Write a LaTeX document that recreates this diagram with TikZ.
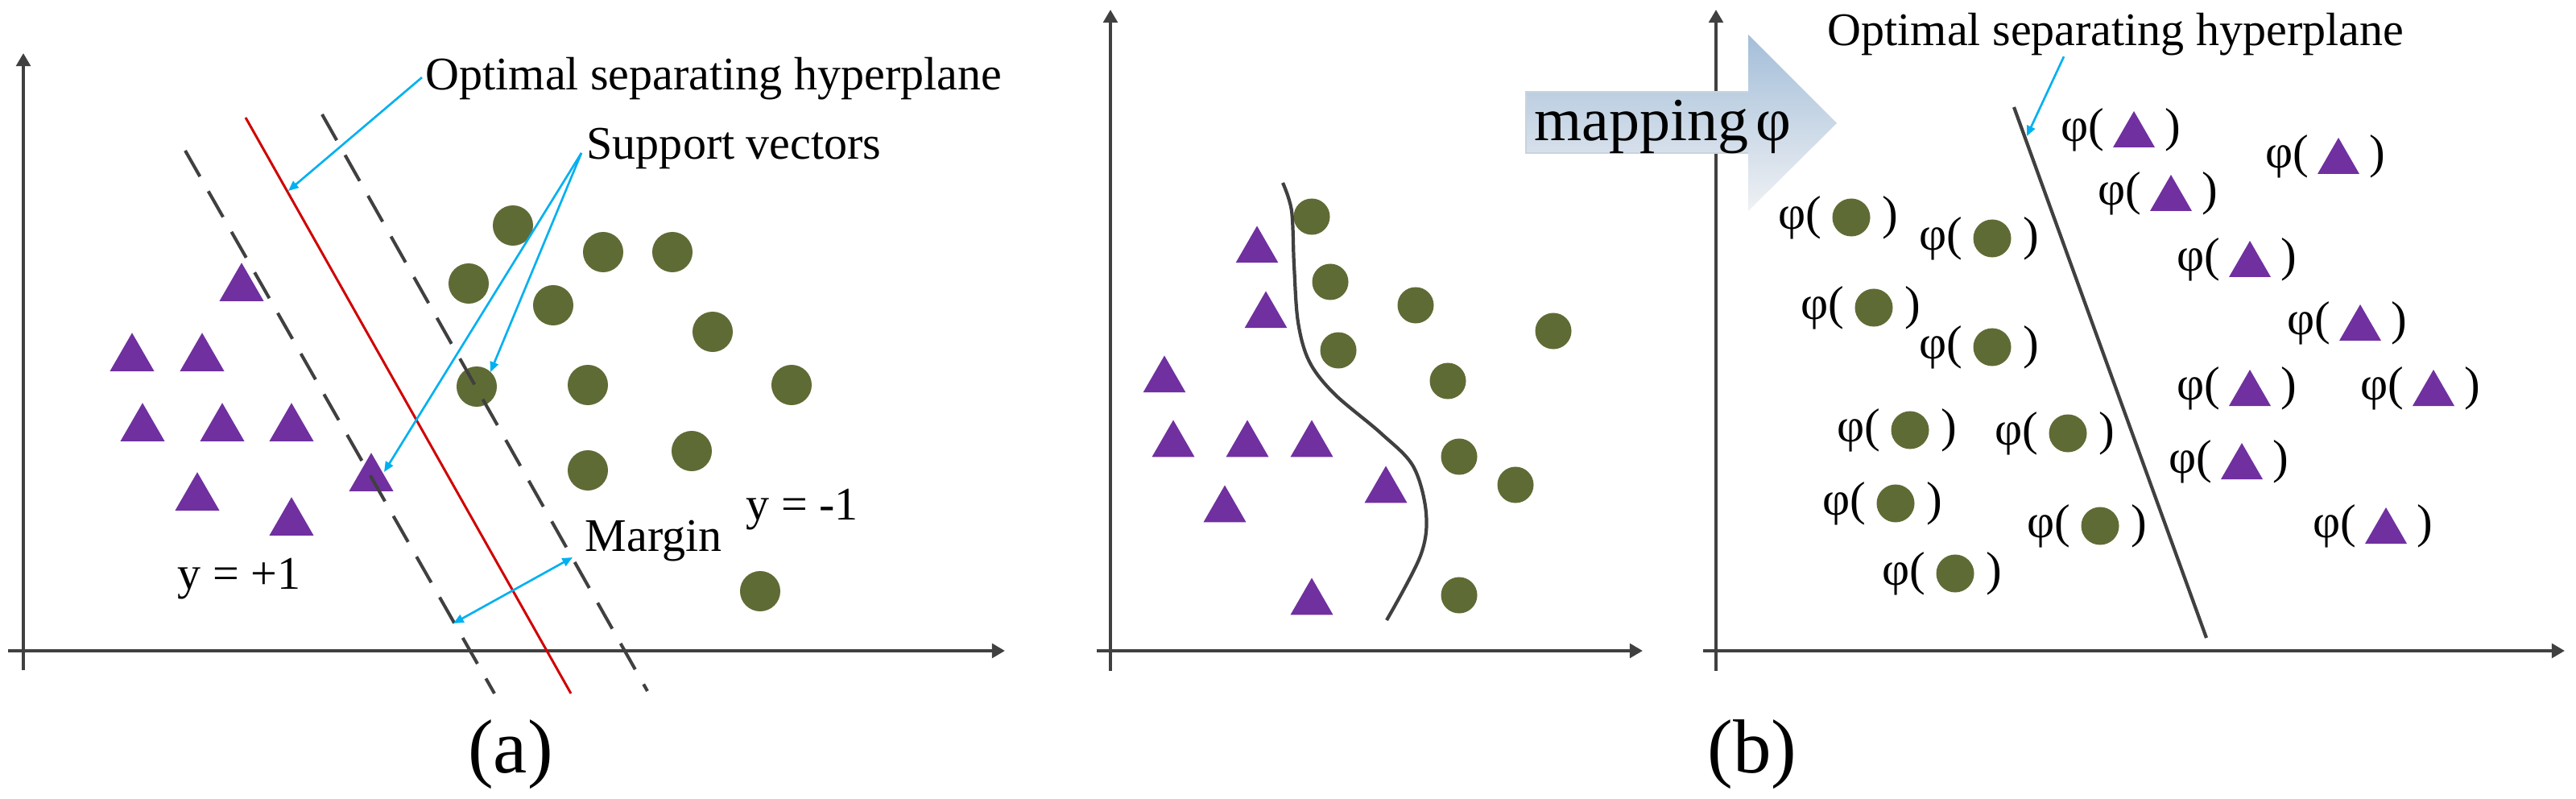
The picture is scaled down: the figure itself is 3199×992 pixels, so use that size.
\documentclass[tikz,border=0pt]{standalone}
\usepackage{fontspec}
\setmainfont{Liberation Serif}
\usetikzlibrary{arrows.meta,shapes.geometric,calc}
\definecolor{tripurple}{HTML}{7030A0}
\definecolor{svmolive}{HTML}{5F6B35}
\definecolor{svmcyan}{HTML}{00B0F0}
\definecolor{svmred}{HTML}{D00000}
\definecolor{axisgray}{HTML}{404040}
\definecolor{maptop}{HTML}{A4BED9}
\definecolor{mapbot}{HTML}{EFF1F4}
\definecolor{mapedge}{HTML}{C9D3DD}
\tikzset{
  axisarrow/.style={draw=axisgray, line width=1.3pt, -{Triangle[length=4.6pt,width=5pt]}},
  tria/.style={regular polygon, regular polygon sides=3, fill=tripurple, draw=none, inner sep=0pt, minimum size=0.635cm},
  trib/.style={tria, minimum size=0.61cm},
  circa/.style={circle, fill=svmolive, draw=none, inner sep=0pt, minimum size=0.50cm},
  circb/.style={circa, minimum size=0.45cm},
  circl/.style={circa, minimum size=0.47cm},
  txt/.style={font=\fontsize{16.5}{19}\selectfont, inner sep=0pt},
  lbl/.style={font=\fontsize{16.8}{19}\selectfont, inner sep=0pt},
  cyanptr/.style={draw=svmcyan, line width=0.75pt, -{Triangle[length=3.6pt,width=3pt]}},
  svdash/.style={draw=axisgray, line width=1.15pt, dash pattern=on 10.5pt off 6pt},
  sepline/.style={draw=axisgray, line width=1.2pt},
}
\begin{document}
\begin{tikzpicture}[x=0.01cm, y=-0.01cm]
\useasboundingbox (0,0) rectangle (3199,992);

% ---------- panel (a) ----------
\draw[axisarrow] (29,832) -- (29,66);
\draw[axisarrow] (10,808) -- (1248,808);

\foreach \x/\y [count=\i] in {300/358,164/445,251/445,177/532,276/532,362/532,245/618,362/649,461/594}
  \node[tria] (ta\i) at (\x,\y) {};
\foreach \x/\y [count=\i] in {637/280,749/313,835/313,582/352,687/379,885/412,592/480,730/478,983/478,859/560,730/584,944/734}
  \node[circa] (ca\i) at (\x,\y) {};

\draw[svdash] (230,187) -- (614,861);
\draw[svdash] (400,142) -- (804,858);
\draw[draw=svmred, line width=0.85pt] (305,146) -- (709,861);

\node[txt, anchor=base west] (optA) at (528,112) {Optimal separating hyperplane};
\node[txt, anchor=base west] (svec) at (728,198) {Support vectors};
\node[txt, anchor=base west] (margin) at (726,685) {Margin};
\node[txt, anchor=base west] (yneg) at (926,646) {y = -1};
\node[txt, anchor=base west] (ypos) at (220,732) {y = +1};

\coordinate (hypA) at (358,237);
\coordinate (sv1) at (609,462);
\coordinate (sv2) at (477,586);
\coordinate (m1) at (563,774);
\coordinate (m2) at (711,692);
\draw[cyanptr] ($(optA.west)+(-4,-2)$) -- (hypA);
\draw[cyanptr] ($(svec.west)+(-6,5)$) -- (sv1);
\draw[cyanptr] ($(svec.west)+(-6,5)$) -- (sv2);
\draw[cyanptr, {Triangle[length=3.6pt,width=3pt]}-{Triangle[length=3.6pt,width=3pt]}] (m1) -- (m2);

\node[font=\fontsize{27}{30}\selectfont, inner sep=0pt, anchor=base] (lblA) at (634,960) {(a)};

% ---------- panel (b), input space ----------
\draw[axisarrow] (1379,833) -- (1379,12);
\draw[axisarrow] (1362,808) -- (2040,808);

\foreach \x/\y [count=\i] in {1561/311,1572/392,1446/472,1457/552,1549/552,1629/552,1521/633,1721/609,1629/748}
  \node[trib] (tb\i) at (\x,\y) {};
\foreach \x/\y [count=\i] in {1629/269,1652/350,1758/379,1929/411,1662/435,1798/473,1812/567,1882/602,1812/739}
  \node[circb] (cb\i) at (\x,\y) {};

\draw[sepline] plot[smooth, tension=0.55] coordinates {(1593,227) (1604,262) (1607,329) (1612,400) (1626,449) (1657,489) (1715,538) (1755,579) (1771,637) (1764,690) (1722,770)};

% ---------- panel (b), feature space ----------
\draw[axisarrow] (2131,833) -- (2131,12);
\draw[axisarrow] (2115,808) -- (3185,808);

\shade[top color=maptop, bottom color=mapbot] (1895,114) -- (2171,114) -- (2171,43) -- (2281,153) -- (2171,262) -- (2171,190) -- (1895,190) -- cycle;
\draw[draw=mapedge, line width=0.6pt] (2171,114) -- (1895,114) -- (1895,190) -- (2171,190);
\node[font=\fontsize{21.6}{24}\selectfont, inner sep=0pt, anchor=base west] (maptext) at (1905,175) {mapping\kern0.12em φ};

\draw[sepline] (2501,133) -- (2740,792);
\node[txt, anchor=base west] (optB) at (2269,57) {Optimal separating hyperplane};
\coordinate (hypB) at (2517,169);
\draw[cyanptr] ($(optB.south west)+(294,0)$) -- (hypB);

\foreach \x/\y [count=\i] in {2650/168,2904/201,2696/247,2794/329,2931/408,2794/489,3022/489,2784/580,2963/660} {
  \node[trib, minimum size=0.60cm] (pt\i) at (\x,\y) {};
  \node[lbl, anchor=east] (ptl\i) at ([xshift=-0.36cm,yshift=0.07cm]pt\i.center) {φ(};
  \node[lbl, anchor=west] (ptr\i) at ([xshift=0.38cm,yshift=0.07cm]pt\i.center) {)};
}
\foreach \x/\y [count=\i] in {2299/270,2474/296,2327/382,2474/431,2372/534,2568/538,2354/625,2608/653,2428/712} {
  \node[circl] (pc\i) at (\x,\y) {};
  \node[lbl, anchor=east] (pcl\i) at ([xshift=-0.36cm]pc\i.center) {φ(};
  \node[lbl, anchor=west] (pcr\i) at ([xshift=0.38cm]pc\i.center) {)};
}

\node[font=\fontsize{27}{30}\selectfont, inner sep=0pt, anchor=base] (lblB) at (2176,960) {(b)};
\end{tikzpicture}
\end{document}
